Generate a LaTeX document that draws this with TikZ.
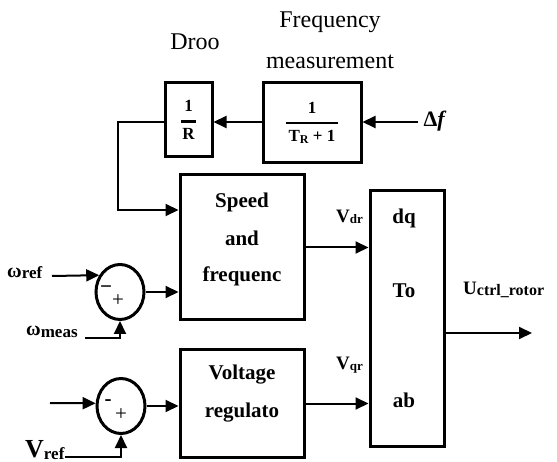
\documentclass[tikz,border=0pt]{standalone}
\usepackage{fontspec}
\setmainfont{Liberation Serif}
\usetikzlibrary{arrows.meta,shapes.geometric}
\newcommand{\bsubx}[4]{{\fontsize{#3}{#3}\selectfont\bfseries #1}\raisebox{-0.3ex}{\fontsize{#4}{#4}\selectfont\bfseries #2}}
\begin{document}
\begin{tikzpicture}[x=1pt,y=-1pt,
  blk/.style={draw,line width=3pt,inner sep=0pt,minimum width=#1},
  sumc/.style={draw,ellipse,line width=3pt,inner sep=0pt,minimum width=48pt,minimum height=55pt},
  arr/.style={line width=2pt,-{Triangle[length=13pt,width=12pt]}},
  lbl/.style={inner sep=0pt,font=\fontsize{24}{28}\selectfont},
  btxt/.style={inner sep=0pt,font=\fontsize{21}{24}\selectfont\bfseries},
  frac/.style={font=\fontsize{17}{20}\selectfont\bfseries,align=center},
  sig/.style={inner sep=0pt,font=\fontsize{21}{22}\selectfont},
  sub/.style={inner sep=0pt}]
\useasboundingbox (0,0) rectangle (557,462);
% blocks
\node[blk=47pt,minimum height=74pt,frac] (droop) at (188.5,120) {1\\[-9pt]\rule{15pt}{2.2pt}\\[-3pt]R};
\node[blk=98pt,minimum height=80pt,frac] (freq) at (312,123) {1\\[-9pt]\rule{52pt}{2.2pt}\\[-3pt]T\raisebox{-0.3ex}{\fontsize{12}{12}\selectfont R} + 1};
\node[blk=124pt,minimum height=145pt] (speed) at (242,247.5) {};
\node[blk=124pt,minimum height=107pt] (volt) at (242,403.5) {};
\node[blk=74pt,minimum height=255pt] (dq) at (407,318.5) {};
\node[sumc] (sum1) at (120,292) {};
\node[sumc] (sum2) at (121,406) {};
% block texts
\node[btxt] (t1) at (242,202) {Speed};
\node[btxt] (t2) at (242,238) {and};
\node[btxt] (t3) at (242,276) {frequenc};
\node[btxt] (t4) at (242,375) {Voltage};
\node[btxt] (t5) at (242,413) {regulato};
\node[btxt] (t6) at (404,218) {dq};
\node[btxt] (t7) at (404,291) {To};
\node[btxt] (t8) at (404,400) {ab};
% signs
\node[sig,font=\fontsize{21}{22}\selectfont\bfseries] (s1m) at (106,290) {−};
\node[sig] (s1p) at (118,301) {+};
\node[sig,font=\fontsize{21}{22}\selectfont\bfseries] (s2m) at (108,403) {-};
\node[sig] (s2p) at (121,415) {+};
% labels
\node[lbl] (ldroo) at (195,42) {Droo};
\node[lbl] (lfreq1) at (330,22) {Frequency};
\node[lbl] (lfreq2) at (330,62) {measurement};
\node[lbl,font=\fontsize{22}{26}\selectfont\bfseries] (ldf) at (435,121) {Δ\textit{f}};
\node[sub,anchor=west] (lwref) at (7,273) {\bsubx{ω}{ref}{20}{17}};
\node[sub,anchor=west] (lwmeas) at (26,332) {\bsubx{ω}{meas}{20}{17}};
\node[sub,anchor=west] (lvref) at (25,450) {\bsubx{V}{ref}{26}{17}};
\node[sub,anchor=west] (lvd) at (336,217) {\bsubx{V}{dr}{19}{13}};
\node[sub,anchor=west] (lvq) at (336,365) {\bsubx{V}{qr}{19}{13}};
\node[sub,anchor=west] (lu) at (463,290) {\bsubx{U}{ctrl\_rotor}{19}{16}};
% coordinates
\coordinate (df) at (418,122);
\coordinate (c1) at (118,210);
\coordinate (wref) at (52,276);
\coordinate (wmeas) at (85,338);
\coordinate (vin) at (50,403);
\coordinate (vref) at (65,457);
\coordinate (out) at (532,333);
% connectors
\draw[arr] (df) -- (df -| freq.east);
\draw[arr] (freq.west |- df) -- (df -| droop.east);
\draw[arr] (droop.west |- df) -| (c1) -- (c1 -| speed.west);
\draw[arr] (wref) -- (sum1.141);
\draw[arr] (wmeas) -| (sum1.south);
\draw[arr] (sum1.east) -- (sum1.east -| speed.west);
\draw[arr] (vin) -- (sum2.174);
\draw[arr] (vref) -| (sum2.south);
\draw[arr] (sum2.east) -- (sum2.east -| volt.west);
\draw[arr] (speed.east) -- (speed.east -| dq.west);
\draw[arr] (volt.east) -- (volt.east -| dq.west);
\draw[arr] (dq.east |- out) -- (out);
\end{tikzpicture}
\end{document}
